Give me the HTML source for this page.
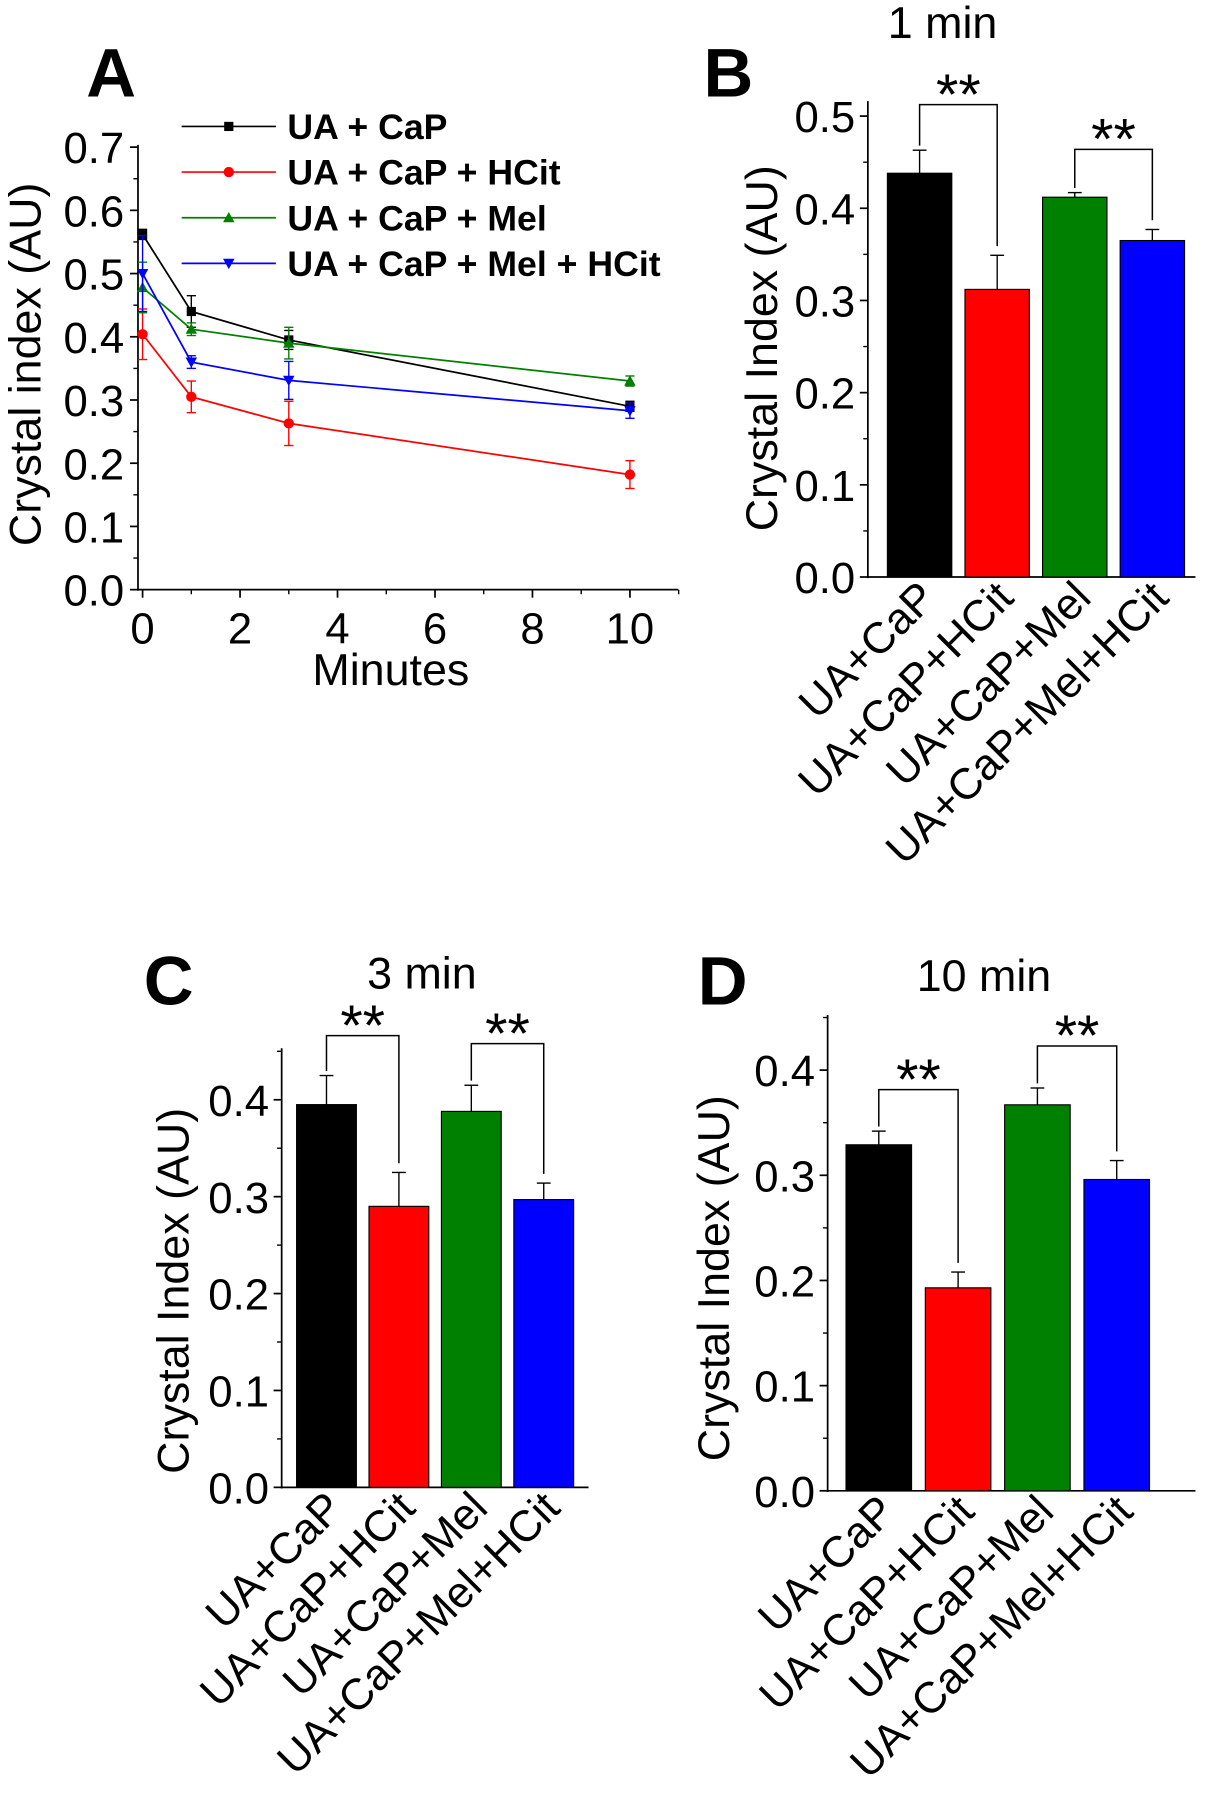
<!DOCTYPE html>
<html><head><meta charset="utf-8"><style>
html,body{margin:0;padding:0;background:#fff}
svg{display:block;font-family:"Liberation Sans",Arial,sans-serif}
</style></head><body>
<svg id="fig" width="1207" height="1800" viewBox="0 0 1050 1566" xmlns="http://www.w3.org/2000/svg"></svg>
<script>
// Panel A data
const minutes = [0, 1, 3, 10];
const seriesNames = ["UA + CaP", "UA + CaP + HCit", "UA + CaP + Mel", "UA + CaP + Mel + HCit"];
const seriesColors = ["#000000", "#ff0000", "#008000", "#0000ff"];
const lineUA = [0.562, 0.44, 0.395, 0.29];
const lineUAErr = [0.008, 0.025, 0.015, 0.008];
const lineHCit = [0.404, 0.305, 0.263, 0.182];
const lineHCitErr = [0.04, 0.025, 0.035, 0.022];
const lineMel = [0.478, 0.412, 0.39, 0.33];
const lineMelErr = [0.04, 0.01, 0.025, 0.008];
const lineMelHCit = [0.5, 0.36, 0.331, 0.283];
const lineMelHCitErr = [0.06, 0.01, 0.03, 0.012];
const aYTicks = ["0.0","0.1","0.2","0.3","0.4","0.5","0.6","0.7"];
const aXTicks = ["0","2","4","6","8","10"];
// Bar panels
const categories = ["UA+CaP", "UA+CaP+HCit", "UA+CaP+Mel", "UA+CaP+Mel+HCit"];
const bars1 = [0.438, 0.312, 0.412, 0.365];
const bars1Err = [0.025, 0.037, 0.005, 0.012];
const bars3 = [0.395, 0.29, 0.388, 0.297];
const bars3Err = [0.03, 0.035, 0.027, 0.017];
const bars10 = [0.329, 0.193, 0.367, 0.296];
const bars10Err = [0.013, 0.015, 0.016, 0.018];
const bTicks = ["0.0","0.1","0.2","0.3","0.4","0.5"];
const cTicks = ["0.0","0.1","0.2","0.3","0.4"];
const dTicks = ["0.0","0.1","0.2","0.3","0.4"];

const NS = "http://www.w3.org/2000/svg";
const svg = document.getElementById("fig");
const TICKFS = 38, TITLEFS = 39;
function el(tag, attrs, parent, text) {
  const e = document.createElementNS(NS, tag);
  for (const k in attrs) e.setAttribute(k, attrs[k]);
  if (text !== undefined) e.textContent = text;
  (parent || svg).appendChild(e);
  return e;
}

// ---------- Panel A ----------
(function(){
  const g = el("g", {});
  
  
  const x = v => 124 + v * 42.4;
  const y = v => 513 - v * 550;
  const t = el("text", {x:75, y:84, "font-size":60, "font-weight":"bold"}, g, "A");
  
  
  el("line", {x1:120, y1:y(0.7)-2, x2:120, y2:514, stroke:"#000", "stroke-width":1.5}, g);
  el("line", {x1:119, y1:513, x2:590, y2:513, stroke:"#000", "stroke-width":1.5}, g);
  for (let i = 0; i < aYTicks.length; i++) {
    const v = parseFloat(aYTicks[i]);
    el("line", {x1:113, y1:y(v), x2:120, y2:y(v), stroke:"#000", "stroke-width":1.5}, g);
    if (i < aYTicks.length - 1) el("line", {x1:116, y1:y(v+0.05), x2:120, y2:y(v+0.05), stroke:"#000", "stroke-width":1.2}, g);
    const tl = el("text", {x:108, y:y(v)+14, "font-size":TICKFS, "text-anchor":"end"}, g, aYTicks[i]);
    
    
  }
  for (let i = 0; i < aXTicks.length; i++) {
    const v = parseFloat(aXTicks[i]);
    el("line", {x1:x(v), y1:513, x2:x(v), y2:520, stroke:"#000", "stroke-width":1.5}, g);
    el("line", {x1:x(v+1), y1:513, x2:x(v+1), y2:517, stroke:"#000", "stroke-width":1.2}, g);
    const tl = el("text", {x:x(v), y:560, "font-size":TICKFS, "text-anchor":"middle"}, g, aXTicks[i]);
    
    
  }
  const yl = el("text", {x:0, y:0, "font-size":TITLEFS, "text-anchor":"middle", transform:"translate(35,317) rotate(-90)"}, g, "Crystal index (AU)");
  
  
  const xl = el("text", {x:340, y:596, "font-size":TITLEFS, "text-anchor":"middle"}, g, "Minutes");
  
  
  const vals = [lineUA, lineHCit, lineMel, lineMelHCit];
  const errs = [lineUAErr, lineHCitErr, lineMelErr, lineMelHCitErr];
  function marker(kind, cx, cy, c, parent) {
    if (kind === 0) return el("rect", {x:cx-4, y:cy-4, width:8, height:8, fill:c}, parent);
    if (kind === 1) return el("circle", {cx:cx, cy:cy, r:4.5, fill:c}, parent);
    if (kind === 2) return el("polygon", {points:`${cx},${cy-5} ${cx+5},${cy+4} ${cx-5},${cy+4}`, fill:c}, parent);
    return el("polygon", {points:`${cx},${cy+5} ${cx+5},${cy-4} ${cx-5},${cy-4}`, fill:c}, parent);
  }
  for (let s = 0; s < 4; s++) {
    const c = seriesColors[s];
    const sg = el("g", {}, g);
    
    
    const pts = minutes.map((m, i) => `${x(m)},${y(vals[s][i])}`).join(" ");
    el("polyline", {points:pts, fill:"none", stroke:c, "stroke-width":1.5}, sg);
    minutes.forEach((m, i) => {
      const cx = x(m), v = vals[s][i], e = errs[s][i];
      el("line", {x1:cx, y1:y(v+e), x2:cx, y2:y(v-e), stroke:c, "stroke-width":1.2}, sg);
      el("line", {x1:cx-4, y1:y(v+e), x2:cx+4, y2:y(v+e), stroke:c, "stroke-width":1.2}, sg);
      el("line", {x1:cx-4, y1:y(v-e), x2:cx+4, y2:y(v-e), stroke:c, "stroke-width":1.2}, sg);
      const mk = marker(s, cx, y(v), c, sg);
      
      
    });
    const ly = 110 + s * 39.7;
    const lg = el("g", {}, g);
    
    
    el("line", {x1:158, y1:ly, x2:240, y2:ly, stroke:c, "stroke-width":1.5}, lg);
    marker(s, 199, ly, c, lg);
    el("text", {x:250, y:ly+11, "font-size":31, "font-weight":"bold"}, lg, seriesNames[s]);
  }
})();

// ---------- Bar panels ----------
function barPanel(cfg) {
  const g = el("g", {});
  
  
  const y = v => cfg.y0 - v * cfg.scale;
  const lab = el("text", {x:cfg.labX, y:cfg.labY, "font-size":60, "font-weight":"bold"}, g, cfg.letter);
  
  
  const tt = el("text", {x:cfg.titleX, y:cfg.titleY, "font-size":TITLEFS, "text-anchor":"middle"}, g, cfg.title);
  
  
  el("line", {x1:cfg.ax, y1:cfg.axTop, x2:cfg.ax, y2:cfg.y0+1, stroke:"#000", "stroke-width":1.5}, g);
  el("line", {x1:cfg.ax-1, y1:cfg.y0, x2:cfg.axRight, y2:cfg.y0, stroke:"#000", "stroke-width":1.5}, g);
  for (let i = 0; i < cfg.ticks.length; i++) {
    const v = parseFloat(cfg.ticks[i]);
    el("line", {x1:cfg.ax-7, y1:y(v), x2:cfg.ax, y2:y(v), stroke:"#000", "stroke-width":1.5}, g);
    if (y(v+0.05) >= cfg.axTop) el("line", {x1:cfg.ax-4, y1:y(v+0.05), x2:cfg.ax, y2:y(v+0.05), stroke:"#000", "stroke-width":1.2}, g);
    const tl = el("text", {x:cfg.ax-11, y:y(v)+14, "font-size":TICKFS, "text-anchor":"end"}, g, cfg.ticks[i]);
    
    
  }
  const yl = el("text", {x:0, y:0, "font-size":TITLEFS, "text-anchor":"middle", transform:`translate(${cfg.ylX},${cfg.ylY}) rotate(-90)`}, g, "Crystal Index (AU)");
  
  
  const centers = [];
  for (let i = 0; i < cfg.values.length; i++) {
    const bx = cfg.b0 + i * cfg.step, v = cfg.values[i], e = cfg.errs[i];
    const cx = bx + cfg.bw / 2;
    centers.push(cx);
    const r = el("rect", {x:bx, y:y(v), width:cfg.bw, height:cfg.y0 - y(v), fill:seriesColors[i], stroke:"#000", "stroke-width":1}, g);
    
    
    el("line", {x1:cx, y1:y(v), x2:cx, y2:y(v+e), stroke:"#000", "stroke-width":1.2}, g);
    el("line", {x1:cx-6, y1:y(v+e), x2:cx+6, y2:y(v+e), stroke:"#000", "stroke-width":1.2}, g);
    const cl = el("text", {x:0, y:0, "font-size":38, "text-anchor":"end", transform:`translate(${cx+16},${cfg.y0+20}) rotate(-45)`}, g, categories[i]);
    
    
  }
  cfg.brackets.forEach(b => {
    const a = b.a, c = b.b;
    const x1 = centers[a], x2 = centers[c];
    const ya = y(cfg.values[a] + cfg.errs[a]) - 4, yb = y(cfg.values[c] + cfg.errs[c]) - 8;
    const bg = el("g", {}, g);
    
    
    el("polyline", {points:`${x1},${ya} ${x1},${b.top} ${x2},${b.top} ${x2},${yb}`, fill:"none", stroke:"#000", "stroke-width":1.3}, bg);
    el("text", {x:(x1+x2)/2, y:b.top + 8, "font-size":50, "text-anchor":"middle"}, bg, "**");
  });
}
barPanel({name:"panel-b", letter:"B", labX:612, labY:84, title:"1 min", titleX:820, titleY:33,
  ax:755, axTop:88, axRight:1040, y0:502, scale:802, ticks:bTicks, ylX:676, ylY:303,
  b0:772, bw:56, step:67.5, values:bars1, errs:bars1Err,
  brackets:[{a:0,b:1,top:91},{a:2,b:3,top:130}]});
barPanel({name:"panel-c", letter:"C", labX:125, labY:874, title:"3 min", titleX:367, titleY:860,
  ax:245, axTop:912, axRight:512, y0:1294, scale:843, ticks:cTicks, ylX:164, ylY:1123,
  b0:258, bw:52, step:63, values:bars3, errs:bars3Err,
  brackets:[{a:0,b:1,top:901},{a:2,b:3,top:908}]});
barPanel({name:"panel-d", letter:"D", labX:607, labY:874, title:"10 min", titleX:856, titleY:862,
  ax:720, axTop:883, axRight:1040, y0:1297, scale:915, ticks:dTicks, ylX:634, ylY:1112,
  b0:736, bw:57, step:69, values:bars10, errs:bars10Err,
  brackets:[{a:0,b:1,top:948},{a:2,b:3,top:910}]});
</script>
</body></html>
